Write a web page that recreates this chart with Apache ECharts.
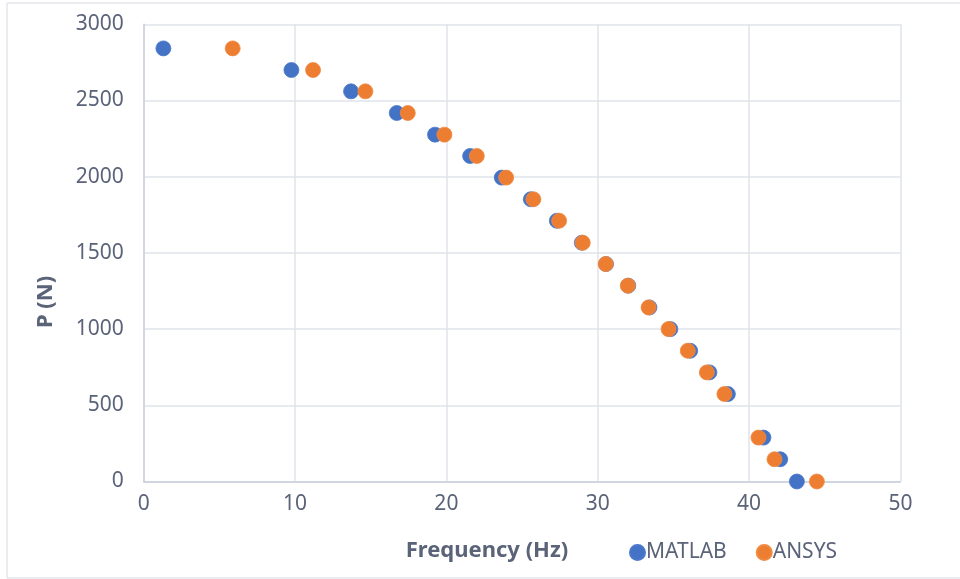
<!DOCTYPE html>
<html>
<head>
<meta charset="utf-8">
<script src="https://cdn.jsdelivr.net/npm/echarts@6/dist/echarts.min.js"></script>
<style>
  html, body { margin: 0; padding: 0; background: #ffffff; }
  #chart { width: 960px; height: 579px; }
</style>
</head>
<body>
<div id="chart"></div>
<script>
// Buckling load P versus natural frequency, MATLAB vs ANSYS
const loadN = [2842, 2700, 2560, 2418, 2276, 2136, 1994, 1852, 1711, 1567,
               1427, 1285, 1142, 1000, 858, 716, 574, 288, 146, 0];
const freqMatlab = [1.30, 9.76, 13.70, 16.72, 19.25, 21.57, 23.66, 25.58, 27.30, 28.95,
                    30.55, 32.02, 33.42, 34.80, 36.11, 37.38, 38.60, 40.95, 42.06, 43.16];
const freqAnsys = [5.88, 11.19, 14.65, 17.45, 19.87, 22.01, 23.95, 25.75, 27.45, 29.01,
                   30.53, 31.99, 33.36, 34.68, 35.95, 37.21, 38.37, 40.62, 41.68, 44.48];
const xTitle = 'Frequency (Hz)';
const yTitle = 'P (N)';
const seriesNames = ['MATLAB', 'ANSYS'];

const pairs = (xs, ys) => xs.map((x, i) => [x, ys[i]]);

const textColor = '#5a6378';
const gridColor = '#dfe3ea';
const axisColor = '#c9d0db';
const fontFamily = '"Noto Sans", "Open Sans", sans-serif';

const chart = echarts.init(document.getElementById('chart'), null, { renderer: 'canvas' });
chart.setOption({
  backgroundColor: '#ffffff',
  animation: false,
  grid: { left: 143.7, right: 59.6, top: 24.3, bottom: 97.5, containLabel: false },
  xAxis: {
    type: 'value', min: 0, max: 50, interval: 10,
    axisLine: { show: true, lineStyle: { color: axisColor, width: 1.5 } },
    axisTick: { show: false },
    splitLine: { show: true, lineStyle: { color: gridColor, width: 1.5 } },
    axisLabel: { color: textColor, fontSize: 21, fontFamily: fontFamily, margin: 12,
                 formatter: v => String(v) }
  },
  yAxis: {
    type: 'value', min: 0, max: 3000, interval: 500,
    axisLine: { show: true, lineStyle: { color: axisColor, width: 1.5 } },
    axisTick: { show: false },
    splitLine: { show: true, lineStyle: { color: gridColor, width: 1.5 } },
    axisLabel: { color: textColor, fontSize: 21, fontFamily: fontFamily, margin: 20,
                 formatter: v => String(v) }
  },
  legend: {
    data: seriesNames,
    left: 624, top: 537,
    icon: 'circle', itemWidth: 15, itemHeight: 15, itemGap: 29,
    textStyle: { color: textColor, fontSize: 21, fontFamily: fontFamily, padding: [0, 0, 0, -4] }
  },
  series: [
    {
      name: seriesNames[0], type: 'scatter', symbol: 'circle', symbolSize: 15,
      itemStyle: { color: '#4472C4', opacity: 1, borderColor: '#4a78cc', borderWidth: 0.8 },
      data: pairs(freqMatlab, loadN), z: 2
    },
    {
      name: seriesNames[1], type: 'scatter', symbol: 'circle', symbolSize: 15,
      itemStyle: { color: '#ED7D31', opacity: 1, borderColor: '#f08a42', borderWidth: 0.8 },
      data: pairs(freqAnsys, loadN), z: 3
    }
  ],
  graphic: [
    // chart area frame
    { type: 'line', shape: { x1: 7, y1: 3, x2: 960, y2: 3 }, style: { stroke: '#e3e6ea', lineWidth: 1.5 } },
    { type: 'line', shape: { x1: 7, y1: 3, x2: 7, y2: 578 }, style: { stroke: '#e3e6ea', lineWidth: 1.5 } },
    { type: 'line', shape: { x1: 7, y1: 578, x2: 960, y2: 578 }, style: { stroke: '#e3e6ea', lineWidth: 1.5 } },
    {
      type: 'text', x: 487, y: 551,
      style: { text: xTitle, fill: textColor, font: 'bold 22px ' + fontFamily, textAlign: 'center', textVerticalAlign: 'middle' }
    },
    {
      type: 'text', x: 46, y: 302, rotation: Math.PI / 2,
      style: { text: yTitle, fill: textColor, font: 'bold 22px ' + fontFamily, textAlign: 'center', textVerticalAlign: 'middle' }
    }
  ]
});
</script>
</body>
</html>
